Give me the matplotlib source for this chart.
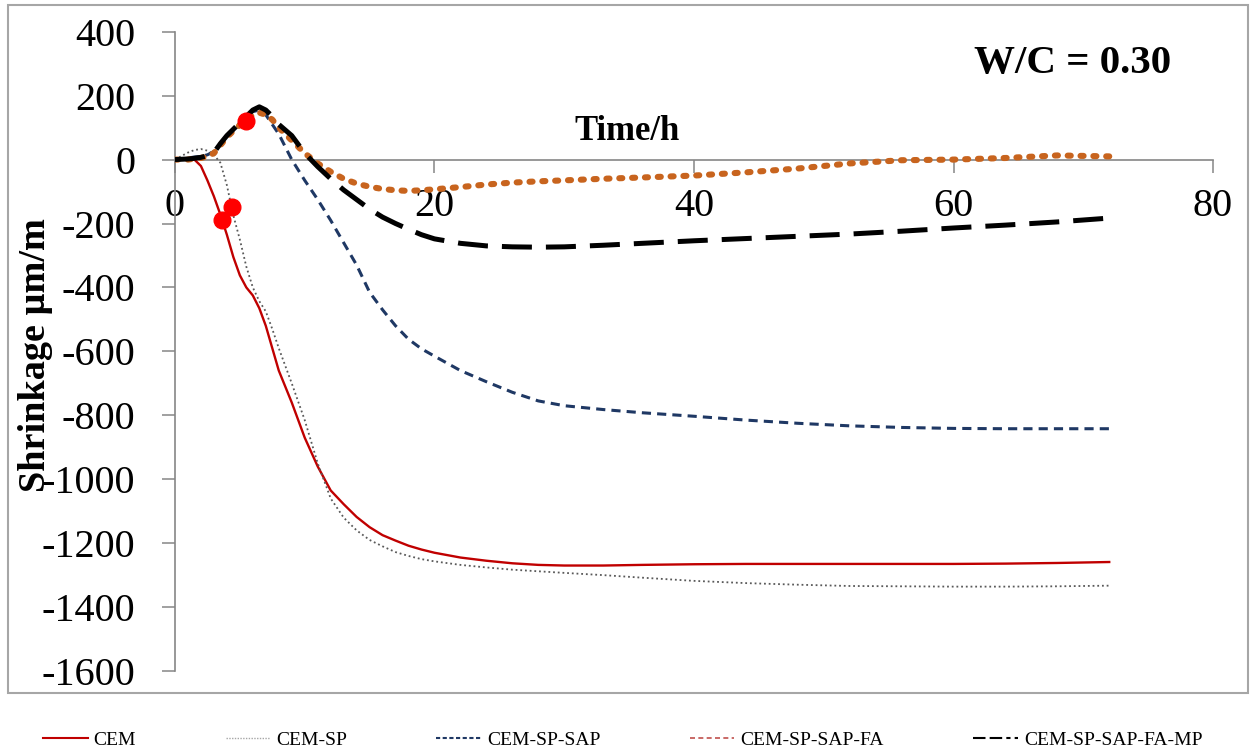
import matplotlib
matplotlib.use('Agg')
import matplotlib.pyplot as plt
from matplotlib.lines import Line2D
from matplotlib.patches import Rectangle

# --- 1. Dados de retração (µm/m) ao longo do tempo (h) ---
time_h = [0, 1, 1.5, 2, 2.5, 3, 3.5, 4, 4.5, 5, 5.5, 6, 6.5, 7, 7.5, 8, 9, 10, 11, 12,
          13, 14, 15, 16, 17, 18, 19, 20, 22, 24, 26, 28, 30, 33, 36, 40, 44, 48, 52,
          56, 60, 64, 68, 72]

cem = [0, 0, 0, -20, -65, -115, -172, -235, -305, -362, -400, -425, -465, -520, -590,
       -660, -760, -870, -960, -1035, -1078, -1118, -1150, -1175, -1192, -1208, -1220,
       -1230, -1245, -1255, -1263, -1268, -1270, -1270, -1268, -1266, -1265, -1265,
       -1265, -1265, -1265, -1264, -1262, -1259]

cem_sp = [0, 22, 30, 33, 28, 15, -10, -80, -175, -250, -335, -400, -443, -475, -530,
          -590, -700, -815, -950, -1060, -1120, -1160, -1190, -1210, -1228, -1240, -1250,
          -1257, -1268, -1276, -1283, -1288, -1293, -1300, -1308, -1318, -1325, -1330,
          -1334, -1335, -1336, -1336, -1335, -1333]

cem_sp_sap = [0, 5, 8, 10, 15, 25, 50, 75, 95, 115, 135, 150, 155, 140, 110, 80, 0, -65,
              -125, -190, -260, -330, -415, -470, -520, -562, -592, -615, -660, -695,
              -728, -755, -770, -782, -792, -803, -815, -825, -833, -838, -841, -842,
              -842, -842]

cem_sp_sap_fa = [0, 0, 3, 5, 10, 20, 45, 70, 90, 108, 122, 140, 147, 140, 125, 100, 60,
                 20, -12, -38, -60, -75, -85, -92, -96, -98, -96, -93, -86, -78, -72,
                 -68, -65, -60, -56, -50, -40, -28, -12, -2, 0, 5, 13, 10]

cem_sp_sap_fa_mp = [0, 2, 4, 7, 12, 22, 50, 75, 95, 115, 135, 155, 165, 155, 135, 110,
                    75, 20, -22, -60, -95, -125, -155, -180, -200, -218, -235, -248, -262,
                    -270, -273, -274, -273, -268, -262, -254, -247, -240, -233, -224,
                    -214, -205, -195, -183]

# pontos marcados em vermelho (início de pega)
set_time = [3.6, 4.37, 5.47]
set_value = [-190, -148, 120]

series_names = ['CEM', 'CEM-SP', 'CEM-SP-SAP', 'CEM-SP-SAP-FA', 'CEM-SP-SAP-FA-MP']
x_ticks = [0, 20, 40, 60, 80]
y_ticks = [400, 200, 0, -200, -400, -600, -800, -1000, -1200, -1400, -1600]

# --- 2. Figura e eixos ---
plt.rcParams['font.family'] = ['Liberation Serif', 'DejaVu Serif']
plt.rcParams['axes.unicode_minus'] = False
AXIS_GRAY = '#868686'

fig = plt.figure(figsize=(12.56, 7.52), dpi=100)
ax = fig.add_axes([0.1393, 0.1077, 0.8265, 0.8501])

ax.plot(time_h, cem, color='#C00000', lw=1.7, zorder=3)
ax.plot(time_h, cem_sp, color='#595959', lw=1.3, linestyle=(0, (1, 1.6)), zorder=3)
ax.plot(time_h, cem_sp_sap, color='#1F3864', lw=2.2, linestyle=(0, (3, 2)), zorder=3)
ax.plot(time_h, cem_sp_sap_fa, color='#C8641E', lw=4.4, linestyle=(0, (0.5, 1.6)),
        dash_capstyle='round', zorder=4)
ax.plot(time_h, cem_sp_sap_fa_mp, color='black', lw=3.6, linestyle=(0, (6, 2.8)), zorder=5)
ax.plot(set_time, set_value, 'o', color='#FF0000', ms=12, zorder=6)

ax.set_xlim(0, 80)
ax.set_ylim(-1600, 400)
ax.set_xticks(x_ticks)
ax.set_yticks(y_ticks)

# eixo x cruzando em y = 0, só o eixo y à esquerda
ax.spines['top'].set_visible(False)
ax.spines['right'].set_visible(False)
ax.spines['bottom'].set_position(('data', 0))
for side in ['left', 'bottom']:
    ax.spines[side].set_color(AXIS_GRAY)
    ax.spines[side].set_linewidth(1.2)

ax.tick_params(axis='both', direction='out', length=9.5, width=1.1, color=AXIS_GRAY,
               labelsize=29)
ax.tick_params(axis='x', pad=11)
ax.tick_params(axis='y', pad=19)

ax.set_xlabel('Time/h', fontsize=25, fontweight='bold')
ax.xaxis.set_label_coords(0.4355, 0.8436)
ax.xaxis.label.set_verticalalignment('center')

ax.set_ylabel('Shrinkage µm/m', fontsize=27.5, fontweight='bold')
ax.yaxis.set_label_coords(-0.134, 0.494)
ax.yaxis.label.set_verticalalignment('center')

ax.text(0.865, 0.9503, 'W/C = 0.30', transform=ax.transAxes, fontsize=29.5,
        fontweight='bold', ha='center', va='center')

# moldura externa do gráfico
fig.patches.append(Rectangle((8 / 1256, 1 - 693 / 752), 1240 / 1256, 688 / 752,
                             transform=fig.transFigure, fill=False,
                             edgecolor='#A6A6A6', lw=1.5))

# --- 3. Legenda ---
handles = [
    Line2D([], [], color='#C00000', lw=1.5),
    Line2D([], [], color='#A6A6A6', lw=1.0, linestyle=(0, (1, 1))),
    Line2D([], [], color='#1F3864', lw=1.5, linestyle=(0, (2, 1.2))),
    Line2D([], [], color='#C0504D', lw=1.2, linestyle=(0, (3, 2))),
    Line2D([], [], color='black', lw=1.5, linestyle=(0, (6, 2, 6, 2, 2, 2))),
]
fig.legend(handles, series_names, loc='center left', bbox_to_anchor=(43 / 1256, 0.016),
           ncol=5, frameon=False, fontsize=14, handlelength=2.3, handletextpad=0.3,
           columnspacing=4.6, borderpad=0, borderaxespad=0)

fig.savefig('out.png', dpi=100)
